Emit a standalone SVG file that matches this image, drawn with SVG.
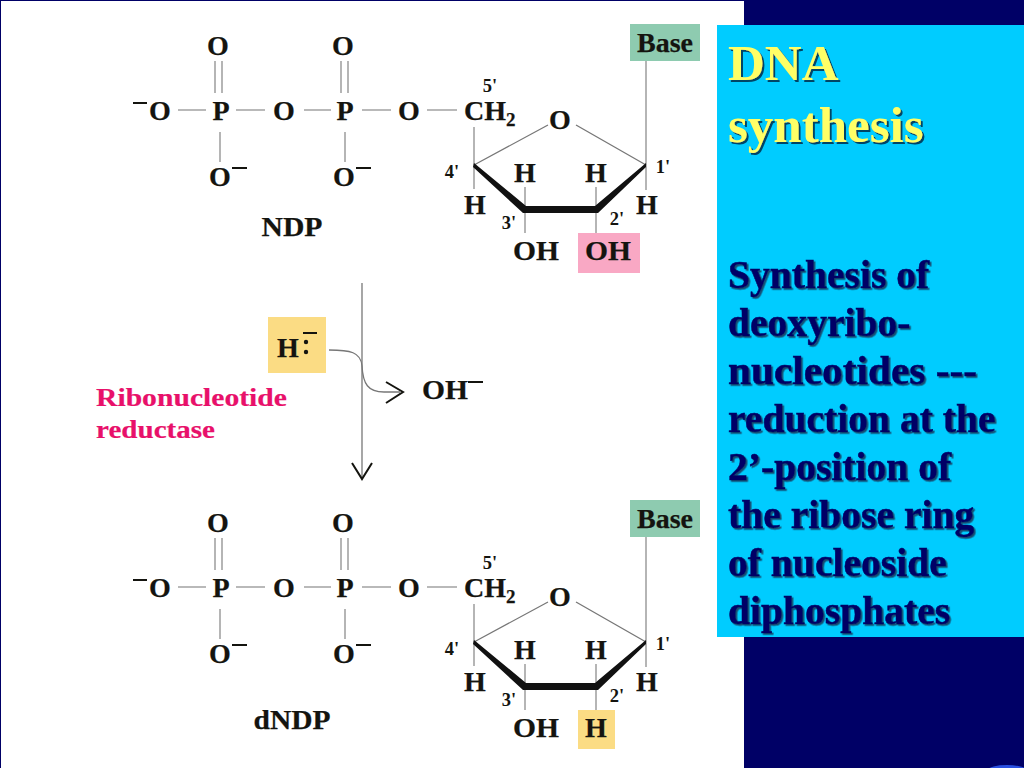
<svg xmlns="http://www.w3.org/2000/svg" width="1024" height="768" viewBox="0 0 1024 768">
<defs>
<style>
text{font-family:"Liberation Serif","Times New Roman",serif;font-weight:700;fill:#14140f}
.a{font-size:28px;text-anchor:middle;stroke:#14140f;stroke-width:.25}
.n{font-size:18.5px;text-anchor:middle}
.e{font-size:26px;fill:#e8106a;stroke:#e8106a;stroke-width:.2}
.l{stroke:#a3a3a3;stroke-width:1.6;fill:none}
.d{stroke:#777;stroke-width:1.3;fill:none}
.m{stroke:#14140f;stroke-width:2;fill:none}
.t{font-size:39.6px;fill:#000066;stroke:#000066;stroke-width:.5;filter:url(#sb)}
.y{font-size:51px;fill:#ffff66;filter:url(#sy)}
</style>
<filter id="sb" x="-5%" y="-20%" width="110%" height="140%"><feDropShadow dx="1.6" dy="1.6" stdDeviation="0.7" flood-color="#164a70"/></filter>
<filter id="sy" x="-5%" y="-20%" width="110%" height="140%"><feDropShadow dx="2" dy="2" stdDeviation="0.6" flood-color="#004466"/></filter>
</defs>
<rect id="background" width="1024" height="768" fill="#000066"/>
<rect id="page" x="1" y="1" width="743" height="767" fill="#ffffff"/>
<ellipse id="corner" cx="1007" cy="770" rx="19" ry="5" fill="#2a50e0"/>
<g id="panel">
<rect x="717" y="25" width="307" height="612" fill="#00ccff"/>
<text class="y" x="728" y="80">DNA</text>
<text class="y" x="728" y="142">synthesis</text>
<text class="t" x="728" y="288">Synthesis of</text>
<text class="t" x="728" y="336">deoxyribo-</text>
<text class="t" x="728" y="384" textLength="249" lengthAdjust="spacingAndGlyphs">nucleotides ---</text>
<text class="t" x="728" y="432">reduction at the</text>
<text class="t" x="728" y="480">2’-position of</text>
<text class="t" x="728" y="528">the ribose ring</text>
<text class="t" x="728" y="576">of nucleoside</text>
<text class="t" x="728" y="624">diphosphates</text>
</g>
<g id="connectors">
<path class="l" d="M215 61V93M222 61V93M178 110H206M236 110H265M304 110H331M362 110H391M220 132V162M341 61V93M348 61V93M345 132V162M427 110H457M474 127V189M525 187V233M596 187V233M646 61V190"/>
<path class="d" d="M474 165L548 125M576 125L646 165"/>
<path class="l" d="M215 538V570M222 538V570M178 587H206M236 587H265M304 587H331M362 587H391M220 609V639M341 538V570M348 538V570M345 609V639M427 587H457M474 604V666M525 664V710M596 664V710M646 537V667"/>
<path class="d" d="M474 642L548 602M576 602L646 642"/>
<path class="d" d="M362 283V479"/>
<path class="m" d="M352 463L362 479L372 463"/>
<path class="d" d="M329 350C350 350 361 352 362 366C363 384 368 392 384 392H400"/>
<path class="m" d="M386 382L403 392L386 403"/>
</g>
<g id="ndp-phosphate">
<text class="a" x="218" y="55">O</text><text class="a" x="343" y="55">O</text>
<text class="a" x="160" y="120">O</text><path class="m" d="M133 103H147M232 168H247M356 168H371"/>
<text class="a" x="221" y="120">P</text><text class="a" x="284" y="120">O</text><text class="a" x="345" y="120">P</text><text class="a" x="409" y="120">O</text>
<text class="a" x="220" y="186">O</text><text class="a" x="344" y="186">O</text>
<text class="a" x="292" y="236" textLength="61" lengthAdjust="spacingAndGlyphs">NDP</text>
</g>
<g id="ndp-ribose">
<text class="a" x="464" y="120" style="text-anchor:start">CH<tspan font-size="19" dy="6">2</tspan></text>
<text class="n" x="490" y="92">5'</text>
<text class="a" x="560" y="129">O</text>
<polygon points="474,163 526,206 595,206 646,163 646,167 598,213 523,213 473,167" fill="#111"/>
<text class="a" x="525" y="182">H</text><text class="a" x="596" y="182">H</text><text class="a" x="475" y="214">H</text><text class="a" x="647" y="214">H</text>
<text class="n" x="452" y="178">4'</text><text class="n" x="663" y="173">1'</text><text class="n" x="509" y="229">3'</text><text class="n" x="617" y="225">2'</text>
<text class="a" x="536" y="260" textLength="46" lengthAdjust="spacingAndGlyphs">OH</text>
</g>
<g id="ndp-oh"><rect x="578" y="233" width="62" height="40" fill="#f9a8c4"/><text class="a" x="608" y="260" textLength="46" lengthAdjust="spacingAndGlyphs">OH</text></g>
<g id="ndp-base"><rect x="630" y="24" width="70" height="37" fill="#8ecbb0"/><text class="a" x="665" y="52">Base</text></g>
<g id="hydride"><rect x="268" y="317" width="58" height="56" fill="#fbdc84"/><text class="a" x="288" y="357">H</text><circle cx="306" cy="342" r="2.2" fill="#14140f"/><circle cx="306" cy="352" r="2.2" fill="#14140f"/><path class="m" d="M303 333H317"/></g>
<g id="hydroxide"><text class="a" x="422" y="399" style="text-anchor:start" textLength="46" lengthAdjust="spacingAndGlyphs">OH</text><path class="m" d="M468 382H483"/></g>
<g id="enzyme"><text class="e" x="96" y="406" textLength="191" lengthAdjust="spacingAndGlyphs">Ribonucleotide</text><text class="e" x="96" y="438" textLength="119" lengthAdjust="spacingAndGlyphs">reductase</text></g>
<g id="dndp-phosphate">
<text class="a" x="218" y="532">O</text><text class="a" x="343" y="532">O</text>
<text class="a" x="160" y="597">O</text><path class="m" d="M133 580H147M232 645H247M356 645H371"/>
<text class="a" x="221" y="597">P</text><text class="a" x="284" y="597">O</text><text class="a" x="345" y="597">P</text><text class="a" x="409" y="597">O</text>
<text class="a" x="220" y="663">O</text><text class="a" x="344" y="663">O</text>
<text class="a" x="292" y="729" textLength="77" lengthAdjust="spacingAndGlyphs">dNDP</text>
</g>
<g id="dndp-ribose">
<text class="a" x="464" y="597" style="text-anchor:start">CH<tspan font-size="19" dy="6">2</tspan></text>
<text class="n" x="490" y="569">5'</text>
<text class="a" x="560" y="606">O</text>
<polygon points="474,640 526,683 595,683 646,640 646,644 598,690 523,690 473,644" fill="#111"/>
<text class="a" x="525" y="659">H</text><text class="a" x="596" y="659">H</text><text class="a" x="475" y="691">H</text><text class="a" x="647" y="691">H</text>
<text class="n" x="452" y="655">4'</text><text class="n" x="663" y="650">1'</text><text class="n" x="509" y="706">3'</text><text class="n" x="617" y="702">2'</text>
<text class="a" x="536" y="737" textLength="46" lengthAdjust="spacingAndGlyphs">OH</text>
</g>
<g id="dndp-h"><rect x="578" y="710" width="37" height="39" fill="#fbdc84"/><text class="a" x="596" y="737">H</text></g>
<g id="dndp-base"><rect x="630" y="500" width="70" height="37" fill="#8ecbb0"/><text class="a" x="665" y="528">Base</text></g>
</svg>
